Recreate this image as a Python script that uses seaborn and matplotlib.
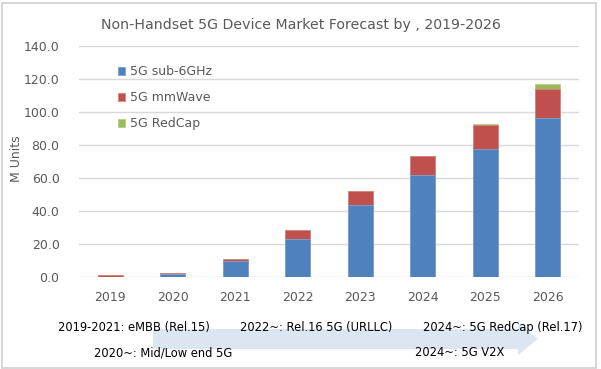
import matplotlib
matplotlib.use("Agg")
import matplotlib.pyplot as plt
from matplotlib.patches import Polygon, Rectangle
import seaborn as sns
import numpy as np
import pandas as pd

# data (M units)
years = ["2019", "2020", "2021", "2022", "2023", "2024", "2025", "2026"]
sub6 = [0.0, 1.8, 9.3, 23.0, 43.5, 61.4, 77.2, 96.4]
mmwave = [0.8, 0.5, 1.4, 5.3, 8.5, 11.8, 14.5, 17.6]
redcap = [0.0, 0.0, 0.0, 0.0, 0.0, 0.0, 0.8, 2.6]
series_names = ["5G sub-6GHz", "5G mmWave", "5G RedCap"]
notes_top = ["2019-2021: eMBB (Rel.15)", "2022~: Rel.16 5G (URLLC)", "2024~: 5G RedCap (Rel.17)"]
notes_bottom = ["2020~: Mid/Low end 5G", "2024~: 5G V2X"]

colors = ["#4F81BD", "#C0504D", "#9BBB59"]
edges = ["#7FA3D3", "#D98583", "#B5D08A"]
txt = "#595959"

sns.set_style("white")
plt.rcParams['font.family'] = ['DejaVu Sans']

df = pd.DataFrame({"year": years, "sub6": sub6, "mmwave": mmwave, "redcap": redcap})
df["lvl1"] = df["sub6"]
df["lvl2"] = df["sub6"] + df["mmwave"]
df["lvl3"] = df["lvl2"] + df["redcap"]

fig = plt.figure(figsize=(6.01, 3.69), dpi=100)
ax = fig.add_axes([79 / 601, 1 - 276.7 / 369, 500 / 601, 231 / 369])

# stacked bars: draw the cumulative totals back to front
for col, c, e, name in zip(["lvl3", "lvl2", "lvl1"], colors[::-1], edges[::-1], series_names[::-1]):
    sns.barplot(data=df, x="year", y=col, color=c, width=0.4, ax=ax,
                edgecolor=e, linewidth=0.6, saturation=1, label=name, zorder=3)

ax.set_xlim(-0.5, 7.5)
ax.set_ylim(0, 140)
ax.set_yticks(np.arange(0, 141, 20))
ax.set_yticklabels([f"{v:.1f}" for v in np.arange(0, 141, 20)])
ax.yaxis.grid(True, color="#D9D9D9", linewidth=1, zorder=0)
ax.set_axisbelow(True)
for s in ax.spines.values():
    s.set_visible(False)
ax.tick_params(axis="both", length=0, labelsize=9, colors=txt)
ax.tick_params(axis="x", pad=10)
ax.tick_params(axis="y", pad=14)
ax.set_xlabel("")
ax.set_ylabel("M Units", fontsize=9, color=txt)
ax.yaxis.set_label_coords((23 - 79) / 500, 0.51)

handles, labels = ax.get_legend_handles_labels()
order = [labels.index(n) for n in series_names]
leg = ax.legend([handles[i] for i in order], [labels[i] for i in order],
                loc="upper left", bbox_to_anchor=(0.055, 0.965), frameon=False,
                fontsize=9, handlelength=0.6, handleheight=0.6, handletextpad=0.4,
                labelspacing=1.05, labelcolor=txt)

fig.text(0.5, 1 - 25 / 369, "Non-Handset 5G Device Market Forecast by , 2019-2026",
         ha="center", va="center", fontsize=10.2, color=txt)

# timeline arrow
px = [(153, 329), (518, 329), (518, 323), (538, 339), (518, 355), (518, 349), (153, 349)]
fig.patches.append(Polygon([(x / 601, 1 - y / 369) for x, y in px], closed=True,
                           transform=fig.transFigure, facecolor="#DCE6F2", edgecolor="none", zorder=0))

top_pos = [(58, 327), (240, 327), (423, 327)]
bottom_pos = [(94, 353), (415, 353)]
for s, (x, y) in zip(notes_top, top_pos):
    fig.text(x / 601, 1 - y / 369, s, ha="left", va="center", fontsize=8.3, color="black", zorder=2)
for s, (x, y) in zip(notes_bottom, bottom_pos):
    fig.text(x / 601, 1 - y / 369, s, ha="left", va="center", fontsize=8.3, color="black", zorder=2)

# outer frame
fig.patches.append(Rectangle((1.5 / 601, 1.5 / 369), 594 / 601, 365 / 369, transform=fig.transFigure,
                             fill=False, edgecolor="#D0D0D0", linewidth=1.2))

fig.savefig("out.png", dpi=100)
